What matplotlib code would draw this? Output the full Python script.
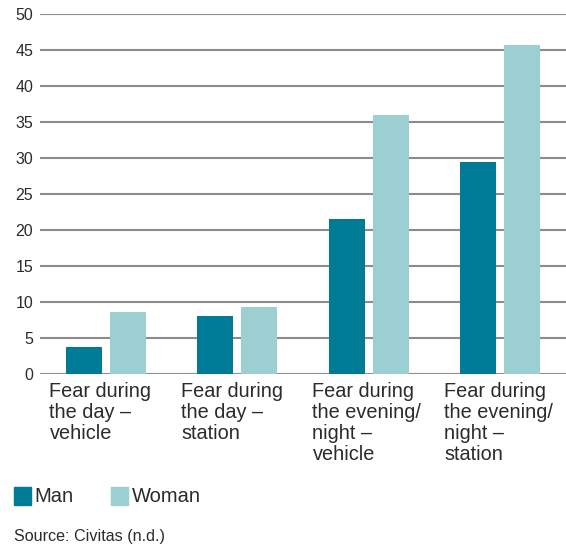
import numpy as np
import matplotlib.pyplot as plt
from matplotlib.patches import Rectangle
from matplotlib.transforms import blended_transform_factory

categories = ["Fear during\nthe day –\nvehicle",
              "Fear during\nthe day –\nstation",
              "Fear during\nthe evening/\nnight –\nvehicle",
              "Fear during\nthe evening/\nnight –\nstation"]
man = [3.7, 8.0, 21.5, 29.4]
woman = [8.6, 9.3, 36.0, 45.7]
yticks = [0, 5, 10, 15, 20, 25, 30, 35, 40, 45, 50]

c_man = "#007b96"
c_woman = "#9bcfd2"
c_text = "#2b2b2b"
c_grid = "#8c8c8c"

plt.rcParams['font.family'] = ['Liberation Sans', 'DejaVu Sans']

fig = plt.figure(figsize=(5.66, 5.46), dpi=100)
ax = fig.add_axes([40 / 566, 1 - 374 / 546, 526 / 566, 360 / 546])

x = np.arange(len(categories))
w = 36 / 131.5
off = 22 / 131.5
ax.bar(x - off, man, w, color=c_man, zorder=3)
ax.bar(x + off, woman, w, color=c_woman, zorder=3)

ax.set_xlim(-0.5, 3.5)
ax.set_ylim(0, 50)
ax.set_yticks(yticks)
ax.set_yticklabels([str(t) for t in yticks], fontsize=11.5, color=c_text)
ax.yaxis.grid(True, color=c_grid, linewidth=1.5, zorder=0)
ax.set_xticks([])
ax.tick_params(axis='y', length=0, pad=5)
for s in ax.spines.values():
    s.set_visible(False)

tr = blended_transform_factory(ax.transData, fig.transFigure)
for i, lab in enumerate(categories):
    ax.text(i - 0.428, 1 - 382 / 546, lab, transform=tr, ha='left', va='top',
            fontsize=14.3, color=c_text, linespacing=1.13)

# legend
fig.patches.append(Rectangle((14 / 566, 1 - 505 / 546), 17 / 566, 18 / 546,
                             transform=fig.transFigure, color=c_man))
fig.text(34 / 566, 1 - 496 / 546, "Man", fontsize=14.5, color=c_text, va='center')
fig.patches.append(Rectangle((111 / 566, 1 - 505 / 546), 17 / 566, 18 / 546,
                             transform=fig.transFigure, color=c_woman))
fig.text(132 / 566, 1 - 496 / 546, "Woman", fontsize=14.5, color=c_text, va='center')

fig.text(14 / 566, 1 - 537 / 546, "Source: Civitas (n.d.)", fontsize=11.6,
         color=c_text, va='center')

fig.savefig("out.png", dpi=100)
